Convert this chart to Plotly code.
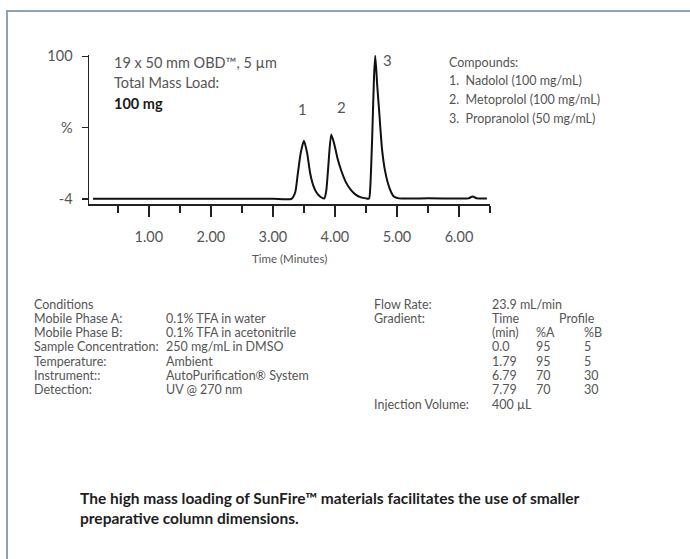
import plotly.graph_objects as go

# ---- data ----
time_min = [0.10, 1.00, 2.00, 3.00, 3.30, 3.36, 3.40, 3.45, 3.50, 3.55, 3.60, 3.65, 3.70, 3.77,
            3.83, 3.86, 3.89, 3.94, 3.99, 4.04, 4.10, 4.18, 4.26, 4.34, 4.42, 4.50, 4.55,
            4.57, 4.60, 4.63, 4.65, 4.68, 4.71, 4.76, 4.81, 4.88, 4.95, 5.03, 5.50, 6.00,
            6.15, 6.22, 6.29, 6.45]
signal = [-3.8, -3.8, -3.8, -3.8, -3.8, 1.0, 14.0, 30.0, 38.5, 30.0, 15.0, 6.0, 1.0, -2.5,
          -3.5, 2.0, 18.0, 43.0, 36.0, 26.0, 17.0, 8.0, 2.5, -1.0, -2.8, -3.5, -3.6,
          5.0, 40.0, 85.0, 100.5, 80.0, 62.0, 32.0, 16.0, 4.0, -2.2, -3.5, -3.5, -3.6,
          -3.5, -2.2, -3.5, -3.6]

peak_labels = ["1", "2", "3"]
peak_times = [3.47, 4.10, 4.85]
peak_label_y = [62, 63, 97]

x_major = [1, 2, 3, 4, 5, 6]
x_major_text = ["1.00", "2.00", "3.00", "4.00", "5.00", "6.00"]
x_minor = [0.5, 1.5, 2.5, 3.5, 4.5, 5.5, 6.5]
y_ticks = [-4, 48, 100]
y_tick_text = ["-4", "%", "100"]

column_info = ["19 x 50 mm OBD\u2122, 5 \u00b5m", "Total Mass Load:"]
mass_load = "100 mg"
compounds = ["Compounds:", "1.  Nadolol (100 mg/mL)", "2.  Metoprolol (100 mg/mL)",
             "3.  Propranolol (50 mg/mL)"]

cond_labels = ["Conditions", "Mobile Phase A:", "Mobile Phase B:", "Sample Concentration:",
               "Temperature:", "Instrument::", "Detection:"]
cond_values = ["", "0.1% TFA in water", "0.1% TFA in acetonitrile", "250 mg/mL in DMSO",
               "Ambient", "AutoPurification\u00ae System", "UV @ 270 nm"]

grad_time = ["Time", "(min)", "0.0", "1.79", "6.79", "7.79"]
grad_a = ["", "%A", "95", "95", "70", "70"]
grad_b = ["", "%B", "5", "5", "30", "30"]
flow_rate = "23.9 mL/min"
injection = "400 \u00b5L"

caption = ("The high mass loading of SunFire\u2122 materials facilitates the use of smaller<br>"
           "preparative column dimensions.")

# ---- layout geometry (pixels) ----
W, H = 690, 559
L, R, T, B = 89, 490, 55, 204
FONT = "Lato"
TXT = "#555555"


def px(x):
    return (x - L) / (R - L)


def py(y):
    return (B - y) / (B - T)


fig = go.Figure()
fig.add_trace(go.Scatter(x=time_min, y=signal, mode="lines",
                         line=dict(color="#111111", width=2, shape="spline", smoothing=0.6),
                         hoverinfo="skip", showlegend=False))

ann = []
for lab, t, yv in zip(peak_labels, peak_times, peak_label_y):
    ann.append(dict(x=t, y=yv, xref="x", yref="y", text=lab, showarrow=False,
                    font=dict(family=FONT, size=15, color=TXT), xanchor="center", yanchor="middle"))


def text(x, y, s, size=12.5, color=TXT, anchor="left", bold=False):
    if bold:
        s = "<b>" + s + "</b>"
    ann.append(dict(x=px(x), y=py(y), xref="paper", yref="paper", text=s, showarrow=False,
                    font=dict(family=FONT, size=size, color=color), xanchor=anchor,
                    yanchor="middle", align="left"))


text(112, 62, column_info[0], size=14.5)
text(112, 82, column_info[1], size=14.5)
text(112, 103, mass_load, size=14.5, color="#1a1a1a", bold=True)

for i, s in enumerate(compounds):
    text(447, 62 + i * 18.7, s, size=12.5)

text(289, 258, "Time (Minutes)", size=11.5, anchor="center")

for i, (a, b) in enumerate(zip(cond_labels, cond_values)):
    yy = 304 + i * 14.3
    text(32, yy, a, size=12.5)
    if b:
        text(164, yy, b, size=12.5)

text(372, 304, "Flow Rate:", size=12.5)
text(490, 304, flow_rate, size=12.5)
text(372, 318.3, "Gradient:", size=12.5)
text(557, 318.3, "Profile", size=12.5)
for i, (t, a, b) in enumerate(zip(grad_time, grad_a, grad_b)):
    yy = 318.3 + i * 14.3
    text(490, yy, t, size=12.5)
    if a:
        text(534, yy, a, size=12.5)
    if b:
        text(582, yy, b, size=12.5)
text(372, 404, "Injection Volume:", size=12.5)
text(490, 404, injection, size=12.5)

ann.append(dict(x=px(78), y=py(508), xref="paper", yref="paper", text="<b>" + caption + "</b>",
                showarrow=False, font=dict(family=FONT, size=15.5, color="#1e1e1e"),
                xanchor="left", yanchor="middle", align="left"))

shapes = [
    dict(type="line", xref="paper", yref="paper", x0=px(7), x1=px(7), y0=py(11), y1=py(H + 5),
         line=dict(color="#8ea2b4", width=2)),
    dict(type="line", xref="paper", yref="paper", x0=px(6), x1=px(W + 5), y0=py(11), y1=py(11),
         line=dict(color="#8ea2b4", width=2)),
]

fig.update_layout(
    width=W, height=H,
    margin=dict(l=L, r=W - R, t=T, b=H - B),
    paper_bgcolor="white", plot_bgcolor="white",
    annotations=ann, shapes=shapes,
    xaxis=dict(range=[0.035, 6.5], showgrid=False, zeroline=False, showline=True,
               linecolor="#222222", linewidth=1.5,
               tickvals=x_major, ticktext=x_major_text, ticks="outside", ticklen=11,
               tickwidth=1.5, tickcolor="#222222",
               tickfont=dict(family=FONT, size=14.5, color="#555555"),
               ticklabelstandoff=8,
               minor=dict(tickvals=x_minor, ticks="outside", ticklen=7, tickwidth=1.5,
                          tickcolor="#222222", showgrid=False)),
    yaxis=dict(range=[-7.6, 101], showgrid=False, zeroline=False, showline=True,
               linecolor="#222222", linewidth=1.5,
               tickvals=y_ticks, ticktext=y_tick_text, ticks="outside", ticklen=6,
               tickwidth=1.5, tickcolor="#222222",
               tickfont=dict(family=FONT, size=14.5, color="#555555"),
               ticklabelstandoff=6),
)

fig.write_html("out.html", config={"displayModeBar": False, "staticPlot": True},
               post_script="document.body.style.margin='0';document.body.style.overflow='hidden';")
